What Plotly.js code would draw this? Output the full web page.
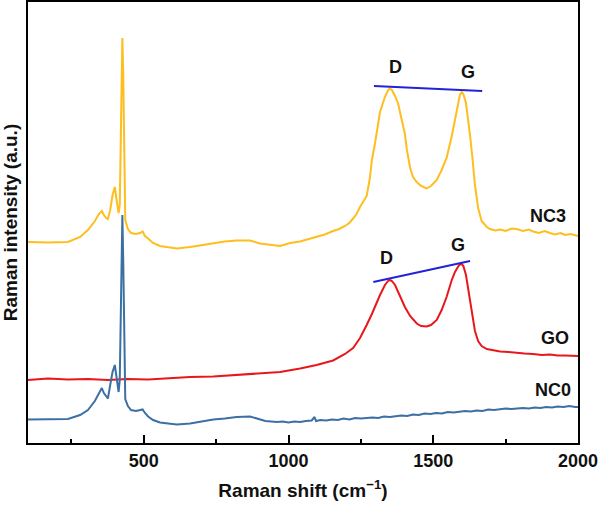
<!DOCTYPE html>
<html>
<head>
<meta charset="utf-8">
<script src="https://cdn.plot.ly/plotly-3.0.1.min.js"></script>
<style>
  html, body { margin: 0; padding: 0; background: #fff; }
  #chart { width: 600px; height: 505px; }
</style>
</head>
<body>
<div id="chart"></div>
<script>
// Raman spectra (intensity in arbitrary units, offset stacked)
var nc3Shift = [100, 169, 238, 280, 307, 331, 345, 355, 362, 370, 376, 384, 392, 400, 406, 410, 413, 417, 420, 423, 426, 429, 432, 436, 445, 456, 473, 487, 496, 504, 515, 532, 556, 584, 614, 660, 694, 740, 780, 821, 867, 901, 936, 971, 1005, 1040, 1070, 1097, 1125, 1154, 1175, 1195, 1210, 1223, 1235, 1247, 1260, 1270, 1281, 1288, 1299, 1316, 1333, 1344, 1350, 1357, 1368, 1379, 1385, 1395, 1402, 1409, 1420, 1430, 1443, 1458, 1477, 1492, 1512, 1529, 1546, 1564, 1575, 1587, 1592, 1598, 1604, 1613, 1620, 1627, 1636, 1644, 1655, 1667, 1685, 1696, 1715, 1731, 1750, 1770, 1788, 1810, 1830, 1845, 1865, 1885, 1903, 1920, 1940, 1955, 1975, 2000];
var nc3Int   = [201, 200.5, 201, 206, 213, 222, 229, 232, 228, 225, 224, 233, 248, 256, 243, 232, 230, 238, 283, 353, 405, 368, 283, 223, 214, 210, 209, 210, 211.5, 207, 204.5, 200, 197, 195.5, 194.5, 196, 197.5, 200, 201.5, 202.5, 202.5, 199.5, 198, 197, 200, 201.5, 204, 206.5, 208.5, 212, 214, 217, 220, 224.5, 229, 236, 242, 247, 265, 283, 300, 331, 346, 353, 354.5, 353, 347, 339, 331, 318, 309, 293, 275, 266, 261, 257, 254.5, 257, 263, 273, 285, 307, 323, 343, 348, 351, 349, 340, 325, 308, 283, 258, 235, 222, 216, 214, 212.5, 213.5, 212, 214.5, 214, 212, 213.5, 211.5, 210, 212, 210, 208.5, 210, 208, 209, 207];

var goShift = [100, 169, 238, 307, 376, 445, 515, 584, 660, 740, 821, 901, 971, 1040, 1097, 1154, 1195, 1223, 1247, 1270, 1288, 1316, 1333, 1344, 1350, 1357, 1368, 1385, 1402, 1420, 1443, 1458, 1477, 1492, 1512, 1529, 1546, 1564, 1575, 1587, 1592, 1598, 1604, 1613, 1620, 1627, 1636, 1644, 1655, 1667, 1685, 1710, 1731, 1760, 1788, 1815, 1845, 1875, 1903, 1930, 1955, 1980, 2000];
var goInt   = [63, 64.5, 63.5, 64, 63, 64, 63.5, 65, 66, 66.5, 68, 69, 71, 74.5, 78, 82.5, 89, 95, 105, 118, 129, 148, 158, 162, 163, 162, 158, 147, 136, 127, 119.5, 117, 116.5, 118, 123, 133, 146, 163, 171, 177, 178.5, 179, 177, 168, 155, 141, 125, 112, 102, 97, 94, 92.5, 91.5, 91, 90, 89.5, 89, 88, 88.5, 87.5, 87.5, 87, 87];

var nc0Shift = [100, 169, 238, 280, 307, 331, 345, 355, 362, 370, 376, 384, 392, 400, 406, 410, 413, 417, 420, 423, 426, 429, 432, 436, 445, 456, 473, 487, 496, 504, 515, 532, 556, 584, 614, 660, 694, 740, 780, 821, 867, 900, 920, 940, 960, 980, 1000, 1020, 1040, 1060, 1080, 1090, 1095, 1110, 1130, 1150, 1170, 1190, 1210, 1230, 1250, 1270, 1290, 1310, 1330, 1350, 1370, 1390, 1410, 1430, 1450, 1470, 1490, 1510, 1530, 1550, 1570, 1590, 1610, 1630, 1650, 1670, 1690, 1710, 1730, 1750, 1770, 1790, 1810, 1830, 1850, 1870, 1890, 1910, 1930, 1950, 1970, 1990, 2000];
var nc0Int   = [23.5, 23.5, 24, 28, 33, 42, 50, 55, 50, 46, 44.5, 58, 71, 78, 65, 53, 51, 63, 123, 193, 228, 183, 103, 44, 37, 33, 32, 32.5, 33.5, 30, 26.5, 23, 20.5, 19.5, 18.5, 19.5, 21, 23.5, 24.5, 26, 26.5, 24, 22, 21.5, 21, 21.5, 20.5, 21.5, 21, 22, 22.5, 26, 22, 23, 22.5, 23.5, 23, 24.5, 23.5, 25, 24.5, 25, 25.5, 25, 26.5, 26, 27, 27.5, 27, 28.5, 28, 29.5, 29, 30, 29.5, 31, 30.5, 31, 32, 31.5, 32.5, 32, 33.5, 33, 33.5, 34.5, 34, 34.5, 35, 34.5, 35.5, 35, 36, 35.5, 36.5, 36, 37, 36, 36];

// D-G guide lines
var nc3GuideX = [1295, 1669];
var nc3GuideY = [357, 352];
var goGuideX = [1293, 1627];
var goGuideY = [161, 182];

// text labels
var labelText = ['D', 'G', 'D', 'G', 'NC3', 'GO', 'NC0'];
var labelX = [1370, 1620, 1340, 1587, 1896, 1921, 1914];
var labelY = [376, 371, 185, 198, 227, 105, 53];

var tickVals = [500, 1000, 1500, 2000];

var traces = [
  { x: nc3Shift, y: nc3Int, mode: 'lines', line: { color: '#FDBE1E', width: 2 }, name: 'NC3' },
  { x: goShift, y: goInt, mode: 'lines', line: { color: '#E8171C', width: 2 }, name: 'GO' },
  { x: nc0Shift, y: nc0Int, mode: 'lines', line: { color: '#3C6FA4', width: 2 }, name: 'NC0' },
  { x: nc3GuideX, y: nc3GuideY, mode: 'lines', line: { color: '#2222D8', width: 2 }, name: 'guide1' },
  { x: goGuideX, y: goGuideY, mode: 'lines', line: { color: '#2222D8', width: 2 }, name: 'guide2' }
];

var annotations = labelText.map(function (t, i) {
  return { x: labelX[i], y: labelY[i], text: '<b>' + t + '</b>', showarrow: false,
           font: { family: 'Liberation Sans, Arial, sans-serif', size: 18, color: '#111' } };
});

var layout = {
  width: 600, height: 505,
  margin: { l: 28, r: 22, t: 2, b: 62 },
  showlegend: false,
  paper_bgcolor: '#fff', plot_bgcolor: '#fff',
  font: { family: 'Liberation Sans, Arial, sans-serif', color: '#111' },
  xaxis: {
    range: [100, 2000],
    tickvals: tickVals,
    ticktext: tickVals.map(function (v) { return '<b>' + v + '</b>'; }),
    ticks: 'inside', ticklen: 8, tickwidth: 2, tickcolor: '#000',
    minor: { dtick: 250, tick0: 0, ticks: 'inside', ticklen: 4, tickwidth: 2, tickcolor: '#000' },
    tickfont: { size: 18, color: '#111' },
    showline: true, linewidth: 2, linecolor: '#000', mirror: true,
    showgrid: false, zeroline: false,
    title: { text: '<b>Raman shift (cm<sup>−1</sup>)</b>', font: { size: 19 }, standoff: 14 }
  },
  yaxis: {
    range: [0, 441],
    showticklabels: false, ticks: '',
    showline: true, linewidth: 2, linecolor: '#000', mirror: true,
    showgrid: false, zeroline: false,
    title: { text: '<b>Raman intensity (a.u.)</b>', font: { size: 19 }, standoff: 6 }
  },
  annotations: annotations
};

Plotly.newPlot('chart', traces, layout, { displayModeBar: false, staticPlot: true });
</script>
</body>
</html>
